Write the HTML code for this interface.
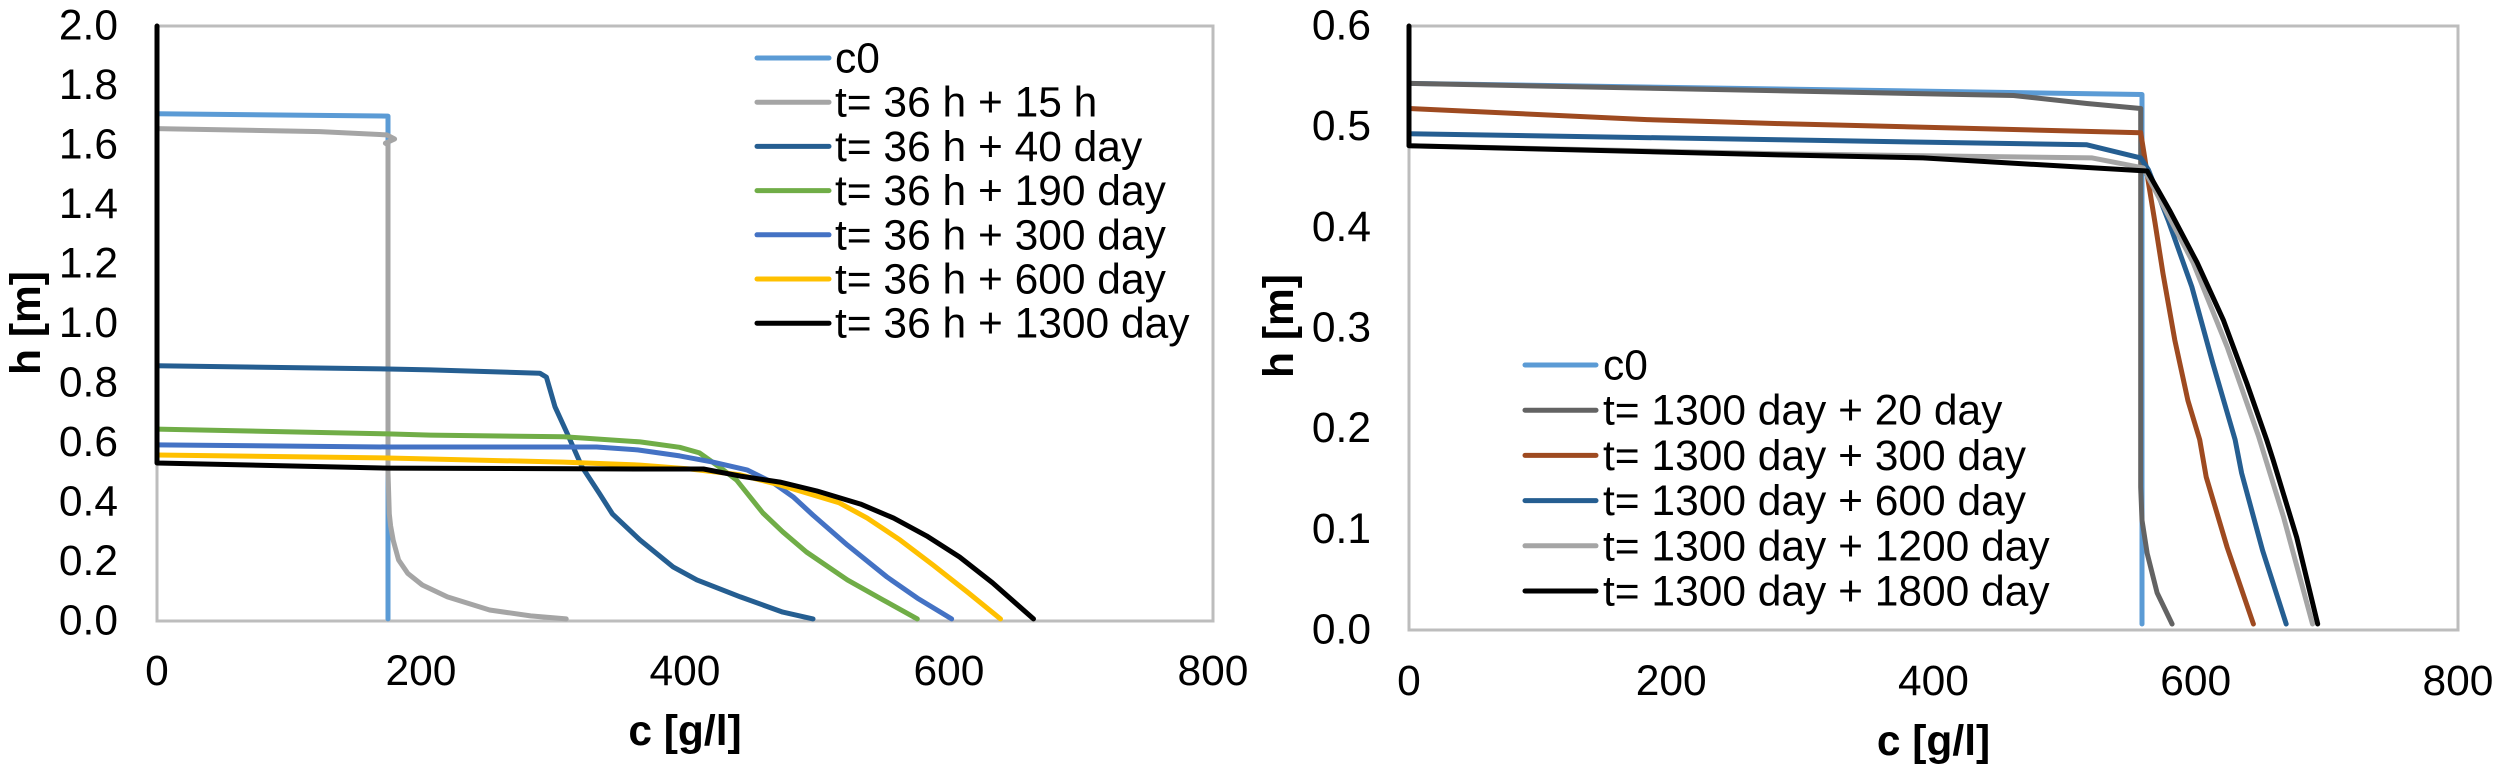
<!DOCTYPE html>
<html lang="en">
<head>
<meta charset="utf-8">
<title>Concentration profiles</title>
<style>
  html, body { margin: 0; padding: 0; background: #fff; }
  #figure { display: block; width: 2500px; height: 773px; }
  text { font-family: "Liberation Sans", Arial, sans-serif; fill: #000; }
</style>
</head>
<body>
<svg id="figure" xmlns="http://www.w3.org/2000/svg" width="2500" height="773" viewBox="0 0 2500 773"></svg>
<script>
// ---- Shared axis data ----
const xTicks = [0, 200, 400, 600, 800];
const leftYTicks = [0, 0.2, 0.4, 0.6, 0.8, 1.0, 1.2, 1.4, 1.6, 1.8, 2.0];
const rightYTicks = [0, 0.1, 0.2, 0.3, 0.4, 0.5, 0.6];

// ---- Left chart series ----
const leftLabels = ['c0', 't= 36 h + 15 h', 't= 36 h + 40 day', 't= 36 h + 190 day', 't= 36 h + 300 day', 't= 36 h + 600 day', 't= 36 h + 1300 day'];
const leftColors = ['#5b9bd5', '#a5a5a5', '#255e91', '#70ad47', '#4472c4', '#ffc000', '#000000'];

const leftC0C = [0, 175, 175, 175];
const leftC0H = [1.705, 1.697, 1.6, 0.007];

const left15hC = [0, 123.5, 174, 180, 173, 175, 175, 176, 177, 179, 183, 190, 201, 220, 252, 283, 310];
const left15hH = [1.655, 1.645, 1.634, 1.62, 1.606, 1.6, 0.5, 0.36, 0.32, 0.27, 0.205, 0.16, 0.121, 0.081, 0.037, 0.017, 0.007];

const left40C = [0, 175, 207, 290, 295, 301.5, 310.6, 322, 335, 345, 366, 391, 409, 442, 474, 497];
const left40H = [0.858, 0.847, 0.844, 0.833, 0.82, 0.72, 0.632, 0.518, 0.43, 0.36, 0.272, 0.182, 0.138, 0.081, 0.03, 0.007];

const left190C = [0, 175, 207, 308, 366, 396, 411, 426, 439, 459, 474, 492, 523, 550, 576];
const left190H = [0.645, 0.629, 0.625, 0.619, 0.602, 0.584, 0.565, 0.518, 0.474, 0.363, 0.30, 0.232, 0.138, 0.071, 0.007];

const left300C = [0, 175, 333, 364, 396, 421, 447, 467, 482, 497, 523, 553, 576, 602];
const left300H = [0.592, 0.585, 0.585, 0.575, 0.555, 0.534, 0.508, 0.464, 0.417, 0.356, 0.255, 0.148, 0.077, 0.007];

const left600C = [0, 175, 308, 366, 404, 442, 472, 517, 538, 563, 588, 614, 639];
const left600H = [0.558, 0.548, 0.534, 0.524, 0.511, 0.491, 0.457, 0.397, 0.346, 0.272, 0.188, 0.097, 0.007];

const left1300C = [0, 0, 175, 366, 414, 442, 472, 500, 533, 558, 583, 608, 633, 664];
const left1300H = [2.0, 0.531, 0.514, 0.511, 0.511, 0.487, 0.467, 0.437, 0.393, 0.346, 0.286, 0.215, 0.128, 0.007];

// ---- Right chart series ----
const rightLabels = ['c0', 't= 1300 day + 20 day', 't= 1300 day + 300 day', 't= 1300 day + 600 day', 't= 1300 day + 1200 day', 't= 1300 day + 1800 day'];
const rightColors = ['#5b9bd5', '#636363', '#9e4a20', '#255e91', '#a5a5a5', '#000000'];

const rightC0C = [0, 559, 559];
const rightC0H = [0.543, 0.532, 0.006];

const right20C = [0, 461, 517, 558, 558, 559, 563, 570.5, 582];
const right20H = [0.543, 0.531, 0.523, 0.518, 0.142, 0.109, 0.076, 0.037, 0.006];

const right300C = [0, 181.5, 283, 558, 561, 564, 569, 575, 584, 594, 603, 608, 624, 644];
const right300H = [0.518, 0.507, 0.503, 0.494, 0.47, 0.444, 0.404, 0.354, 0.288, 0.228, 0.189, 0.152, 0.082, 0.006];

const right600C = [0, 283, 517, 558, 564, 579, 597, 613, 630, 635, 651, 669];
const right600H = [0.493, 0.487, 0.482, 0.469, 0.457, 0.407, 0.341, 0.265, 0.189, 0.156, 0.079, 0.006];

const right1200C = [0, 283, 521, 560, 598, 624, 648, 667, 689];
const right1200H = [0.481, 0.473, 0.469, 0.459, 0.365, 0.281, 0.192, 0.112, 0.006];

const right1800C = [0, 0, 283, 392, 563, 580, 601, 621, 639, 654, 659, 677, 693];
const right1800H = [0.6, 0.481, 0.472, 0.469, 0.456, 0.417, 0.365, 0.308, 0.245, 0.189, 0.169, 0.092, 0.006];

const leftSeriesC = [leftC0C, left15hC, left40C, left190C, left300C, left600C, left1300C];
const leftSeriesH = [leftC0H, left15hH, left40H, left190H, left300H, left600H, left1300H];
const rightSeriesC = [rightC0C, right20C, right300C, right600C, right1200C, right1800C];
const rightSeriesH = [rightC0H, right20H, right300H, right600H, right1200H, right1800H];

const svg = document.getElementById('figure');
const NS = 'http://www.w3.org/2000/svg';

function drawChart(cfg) {
  const xOf = v => cfg.left + (v / cfg.xMax) * (cfg.right - cfg.left);
  const yOf = v => cfg.bottom - (v / cfg.yMax) * (cfg.bottom - cfg.top);

  const group = document.createElementNS(NS, 'g');
  
  
  svg.appendChild(group);

  const frame = document.createElementNS(NS, 'rect');
  
  
  frame.setAttribute('x', cfg.left);
  frame.setAttribute('y', cfg.top);
  frame.setAttribute('width', cfg.right - cfg.left);
  frame.setAttribute('height', cfg.bottom - cfg.top);
  frame.setAttribute('fill', 'none');
  frame.setAttribute('stroke', '#bdbdbd');
  frame.setAttribute('stroke-width', '3');
  group.appendChild(frame);

  cfg.yTicks.forEach(function (t) {
    const label = document.createElementNS(NS, 'text');
    
    
    label.setAttribute('x', cfg.yLabelX);
    label.setAttribute('y', yOf(t) + 13.5);
    label.setAttribute('text-anchor', 'end');
    label.setAttribute('font-size', '42.5');
    label.textContent = t.toFixed(1);
    group.appendChild(label);
  });

  xTicks.forEach(function (t) {
    const label = document.createElementNS(NS, 'text');
    
    
    label.setAttribute('x', xOf(t));
    label.setAttribute('y', cfg.xLabelY);
    label.setAttribute('text-anchor', 'middle');
    label.setAttribute('font-size', '42.5');
    label.textContent = String(t);
    group.appendChild(label);
  });

  const xTitle = document.createElementNS(NS, 'text');
  
  
  xTitle.setAttribute('x', xOf(400));
  xTitle.setAttribute('y', cfg.xTitleY);
  xTitle.setAttribute('text-anchor', 'middle');
  xTitle.setAttribute('font-size', '42.5');
  xTitle.setAttribute('font-weight', '700');
  xTitle.textContent = 'c [g/l]';
  group.appendChild(xTitle);

  const yTitle = document.createElementNS(NS, 'text');
  
  
  yTitle.setAttribute('transform', 'translate(' + cfg.yTitleX + ' ' + cfg.yTitleY + ') rotate(-90)');
  yTitle.setAttribute('text-anchor', 'middle');
  yTitle.setAttribute('font-size', '42.5');
  yTitle.setAttribute('font-weight', '700');
  yTitle.textContent = 'h [m]';
  group.appendChild(yTitle);

  cfg.seriesC.forEach(function (cs, i) {
    const hs = cfg.seriesH[i];
    const pts = cs.map(function (c, k) { return xOf(c).toFixed(1) + ',' + yOf(hs[k]).toFixed(1); }).join(' ');
    const line = document.createElementNS(NS, 'polyline');
    
    
    line.setAttribute('points', pts);
    line.setAttribute('fill', 'none');
    line.setAttribute('stroke', cfg.colors[i]);
    line.setAttribute('stroke-width', '5');
    line.setAttribute('stroke-linejoin', 'round');
    line.setAttribute('stroke-linecap', 'round');
    group.appendChild(line);
  });

  cfg.labels.forEach(function (name, i) {
    const rowY = cfg.legendY + i * cfg.legendStep;
    const swatch = document.createElementNS(NS, 'line');
    
    
    swatch.setAttribute('x1', cfg.legendX1);
    swatch.setAttribute('x2', cfg.legendX2);
    swatch.setAttribute('y1', rowY);
    swatch.setAttribute('y2', rowY);
    swatch.setAttribute('stroke', cfg.colors[i]);
    swatch.setAttribute('stroke-width', '5');
    swatch.setAttribute('stroke-linecap', 'round');
    group.appendChild(swatch);

    const label = document.createElementNS(NS, 'text');
    
    
    label.setAttribute('x', cfg.legendTextX);
    label.setAttribute('y', rowY + 14.5);
    label.setAttribute('font-size', '42.5');
    label.textContent = name;
    group.appendChild(label);
  });
}

drawChart({
  id: 'left', left: 157, right: 1213, top: 26, bottom: 621, xMax: 800, yMax: 2,
  yTicks: leftYTicks, yLabelX: 118, xLabelY: 685, xTitleY: 745,
  yTitleX: 40, yTitleY: 323,
  seriesC: leftSeriesC, seriesH: leftSeriesH, colors: leftColors, labels: leftLabels,
  legendY: 58, legendStep: 44.2, legendX1: 757, legendX2: 829, legendTextX: 835
});

drawChart({
  id: 'right', left: 1409, right: 2458, top: 26, bottom: 630, xMax: 800, yMax: 0.6,
  yTicks: rightYTicks, yLabelX: 1371, xLabelY: 695, xTitleY: 755,
  yTitleX: 1293, yTitleY: 326,
  seriesC: rightSeriesC, seriesH: rightSeriesH, colors: rightColors, labels: rightLabels,
  legendY: 365, legendStep: 45.2, legendX1: 1525, legendX2: 1596, legendTextX: 1603
});
</script>
</body>
</html>
